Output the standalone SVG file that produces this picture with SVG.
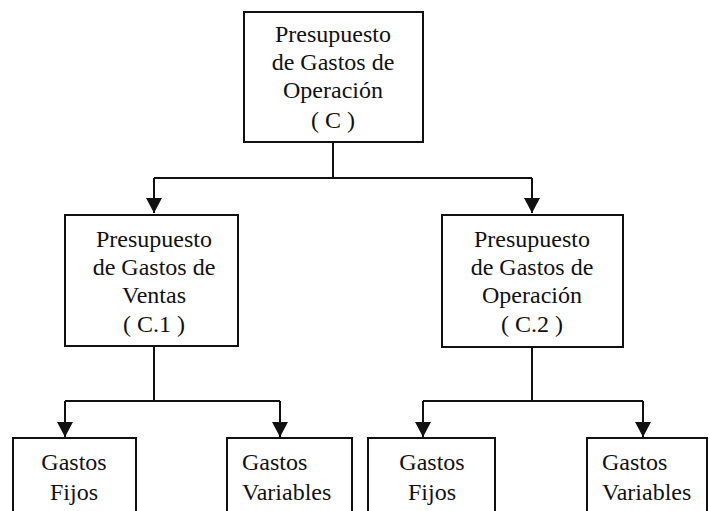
<svg xmlns="http://www.w3.org/2000/svg" width="709" height="511" viewBox="0 0 709 511">
<style>
.box{fill:#fff;stroke:#111;stroke-width:2}
.t{font-family:"Liberation Serif","Times New Roman",serif;font-size:24px;fill:#111;text-anchor:middle}
.ts{font-family:"Liberation Serif","Times New Roman",serif;font-size:24px;fill:#111;text-anchor:start}
.c{fill:none;stroke:#111;stroke-width:2}
</style>
<defs>
<marker id="arr" markerUnits="userSpaceOnUse" markerWidth="16" markerHeight="16" viewBox="0 0 16 16" refX="15" refY="8" orient="auto">
<path d="M0,0 L15,8 L0,16 Z" fill="#111"/>
</marker>
</defs>
<rect width="709" height="511" fill="#fff"/>
<g id="connectors">
<path class="c" d="M333,142 V178"/>
<path class="c" d="M154,178 H532"/>
<path class="c" d="M154,178 V213" marker-end="url(#arr)"/>
<path class="c" d="M532,178 V213" marker-end="url(#arr)"/>
<path class="c" d="M154,346 V401"/>
<path class="c" d="M65,401 H280"/>
<path class="c" d="M65,401 V437" marker-end="url(#arr)"/>
<path class="c" d="M280,401 V437" marker-end="url(#arr)"/>
<path class="c" d="M532,347 V401"/>
<path class="c" d="M423,401 H643"/>
<path class="c" d="M423,401 V437" marker-end="url(#arr)"/>
<path class="c" d="M643,401 V437" marker-end="url(#arr)"/>
</g>
<g id="c">
<rect class="box" x="244" y="12" width="179" height="130"/>
<text class="t" x="333" y="42">Presupuesto</text>
<text class="t" x="333" y="70">de Gastos de</text>
<text class="t" x="333" y="98">Operación</text>
<text class="t" x="333" y="128">( C )</text>
</g>
<g id="c1">
<rect class="box" x="65" y="215" width="173" height="131"/>
<text class="t" x="154" y="247">Presupuesto</text>
<text class="t" x="154" y="275">de Gastos de</text>
<text class="t" x="154" y="303">Ventas</text>
<text class="t" x="154" y="332">( C.1 )</text>
</g>
<g id="c2">
<rect class="box" x="442" y="215" width="181" height="132"/>
<text class="t" x="532" y="247">Presupuesto</text>
<text class="t" x="532" y="275">de Gastos de</text>
<text class="t" x="532" y="303">Operación</text>
<text class="t" x="532" y="332">( C.2 )</text>
</g>
<g id="c1-fijos">
<rect class="box" x="13" y="438" width="123" height="80"/>
<text class="t" x="74" y="470">Gastos</text>
<text class="t" x="74" y="500">Fijos</text>
</g>
<g id="c1-variables">
<rect class="box" x="227" y="438" width="125" height="80"/>
<text class="ts" x="242" y="470">Gastos</text>
<text class="ts" x="242" y="500">Variables</text>
</g>
<g id="c2-fijos">
<rect class="box" x="368" y="438" width="127" height="80"/>
<text class="t" x="432" y="470">Gastos</text>
<text class="t" x="432" y="500">Fijos</text>
</g>
<g id="c2-variables">
<rect class="box" x="587" y="438" width="120" height="80"/>
<text class="ts" x="602" y="470">Gastos</text>
<text class="ts" x="602" y="500">Variables</text>
</g>
</svg>
